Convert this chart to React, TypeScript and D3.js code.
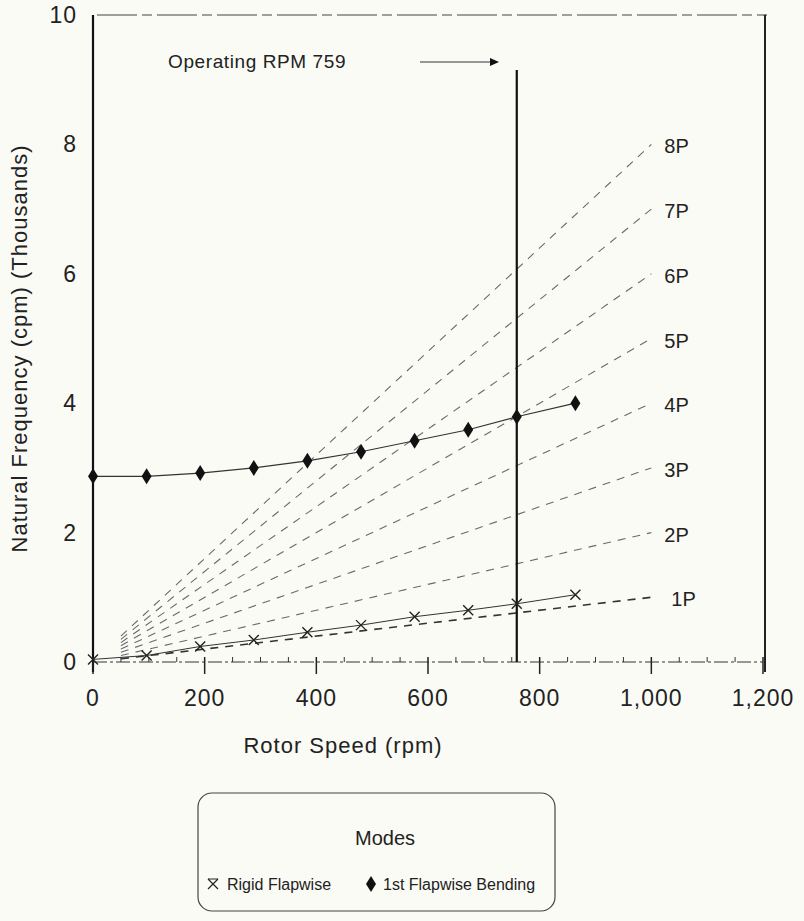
import * as d3 from 'd3';

// Campbell diagram data (rotor speed in rpm, frequency in thousands of cpm)
const rotorSpeed = [0, 96, 192, 288, 384, 480, 576, 672, 759, 864];
const rigidFlapwise = [0.04, 0.1, 0.24, 0.34, 0.46, 0.57, 0.7, 0.8, 0.9, 1.04];
const firstFlapBending = [2.87, 2.87, 2.92, 3.0, 3.11, 3.25, 3.42, 3.59, 3.79, 4.0];

const harmonicOrders = [1, 2, 3, 4, 5, 6, 7, 8];
const harmonicLabels = ['1P', '2P', '3P', '4P', '5P', '6P', '7P', '8P'];
const harmonicSpan = [50, 1000];

const xTicks = [0, 200, 400, 600, 800, 1000, 1200];
const xTickLabels = ['0', '200', '400', '600', '800', '1,000', '1,200'];
const yTicks = [0, 2, 4, 6, 8, 10];
const operatingRpm = 759;

const W = 804;
const H = 921;
const FONT = "'Liberation Sans', Arial, Helvetica, sans-serif";

const App = () => {
  const x = d3.scaleLinear().domain([0, 1200]).range([93, 763]);
  const y = d3.scaleLinear().domain([0, 10]).range([662, 15]);

  const line = d3
    .line<[number, number]>()
    .x((d) => x(d[0]))
    .y((d) => y(d[1]));

  const rigidPts = rotorSpeed.map((r, i) => [r, rigidFlapwise[i]] as [number, number]);
  const bendPts = rotorSpeed.map((r, i) => [r, firstFlapBending[i]] as [number, number]);

  const minorTicks = d3.range(50, 1200, 50).filter((v) => v % 200 !== 0);

  const diamond = (cx: number, cy: number) =>
    `M${cx},${cy - 8}L${cx + 5},${cy}L${cx},${cy + 8}L${cx - 5},${cy}Z`;
  const cross = (cx: number, cy: number, s = 5) =>
    `M${cx - s},${cy - s}L${cx + s},${cy + s}M${cx - s},${cy + s}L${cx + s},${cy - s}`;

  return (
    <svg
      width={W}
      height={H}
      style={{ position: 'absolute', left: 0, top: 0, fontFamily: FONT }}
    >
      <rect width={W} height={H} fill="#fbfbf6" />

      {/* frame */}
      <line x1={x(0) + 4} x2={x(1200) + 4} y1={y(10)} y2={y(10)} stroke="#444" strokeWidth={1.2} strokeDasharray="40,5,10,5" />
      <line x1={x(0)} x2={x(0)} y1={y(10)} y2={y(0) + 10} stroke="#111" strokeWidth={2.2} />
      <line x1={x(1200) + 2} x2={x(1200) + 2} y1={y(10)} y2={y(0) + 10} stroke="#222" strokeWidth={2} />

      {/* x axis */}
      <line x1={x(0)} x2={x(1200)} y1={y(0)} y2={y(0)} stroke="#333" strokeWidth={1} strokeDasharray="14,3,3,3" />
      {xTicks.map((t) => (
        <line key={t} x1={x(t)} x2={x(t)} y1={y(0) - 5} y2={y(0) + 12} stroke="#222" strokeWidth={1.5} />
      ))}
      {minorTicks.map((t) => (
        <line key={t} x1={x(t)} x2={x(t)} y1={y(0) - 5} y2={y(0)} stroke="#333" strokeWidth={1} />
      ))}
      {xTicks.map((t, i) => (
        <text key={t} x={x(t)} y={y(0) + 44} textAnchor="middle" fontSize={23} letterSpacing={1} fill="#222">
          {xTickLabels[i]}
        </text>
      ))}
      {yTicks.map((t) => (
        <text key={t} x={77} y={y(t)} dy="0.35em" textAnchor="end" fontSize={23} letterSpacing={1} fill="#222">
          {t}
        </text>
      ))}

      <text x={343} y={753} textAnchor="middle" fontSize={22} letterSpacing={1} fill="#222">
        Rotor Speed (rpm)
      </text>
      <text
        transform={`translate(27, ${y(5) + 10}) rotate(-90)`}
        textAnchor="middle"
        fontSize={22}
        letterSpacing={1}
        fill="#222"
      >
        Natural Frequency (cpm) (Thousands)
      </text>

      {/* harmonic (nP) excitation lines */}
      {harmonicOrders.map((n, i) => {
        const pts = harmonicSpan.map((r) => [r, (n * r) / 1000] as [number, number]);
        return (
          <g key={n}>
            <path
              d={line(pts) ?? ''}
              fill="none"
              stroke={n === 1 ? '#333' : '#6a6a6a'}
              strokeWidth={n === 1 ? 1.6 : 1.1}
              strokeDasharray="8,7"
            />
            <text
              x={x(harmonicSpan[1]) + (n === 1 ? 20 : 13)}
              y={y((n * harmonicSpan[1]) / 1000) + 2}
              dy="0.35em"
              fontSize={20}
              fill="#222"
            >
              {harmonicLabels[i]}
            </text>
          </g>
        );
      })}

      {/* operating speed */}
      <line x1={x(operatingRpm)} x2={x(operatingRpm)} y1={70} y2={y(0)} stroke="#111" strokeWidth={2.2} />
      <text x={168} y={68} fontSize={19} letterSpacing={0.6} fill="#222">
        Operating RPM 759
      </text>
      <line x1={420} x2={492} y1={62} y2={62} stroke="#333" strokeWidth={1} />
      <path d="M490,58L499,62L490,66Z" fill="#111" />

      {/* mode curves */}
      <path d={line(bendPts) ?? ''} fill="none" stroke="#333" strokeWidth={1.2} />
      {bendPts.map((p, i) => (
        <path key={i} d={diamond(x(p[0]), y(p[1]))} fill="#111" />
      ))}
      <path d={line(rigidPts) ?? ''} fill="none" stroke="#333" strokeWidth={1} />
      {rigidPts.map((p, i) => (
        <path key={i} d={cross(x(p[0]), y(p[1]))} fill="none" stroke="#222" strokeWidth={1.4} />
      ))}

      {/* legend */}
      <rect x={198} y={793} width={357} height={118} rx={14} fill="none" stroke="#444" strokeWidth={1.2} />
      <text x={385} y={838} dy="0.35em" textAnchor="middle" fontSize={20} fill="#222">
        Modes
      </text>
      <path d={cross(213, 884, 5)} fill="none" stroke="#222" strokeWidth={1.2} />
      <line x1={208} x2={218} y1={879} y2={879} stroke="#222" strokeWidth={1} />
      <text x={227} y={884} dy="0.35em" fontSize={16} fill="#222">
        Rigid Flapwise
      </text>
      <path d={diamond(371, 884)} fill="#111" />
      <text x={383} y={884} dy="0.35em" fontSize={16} fill="#222">
        1st Flapwise Bending
      </text>
    </svg>
  );
};

export default App;
